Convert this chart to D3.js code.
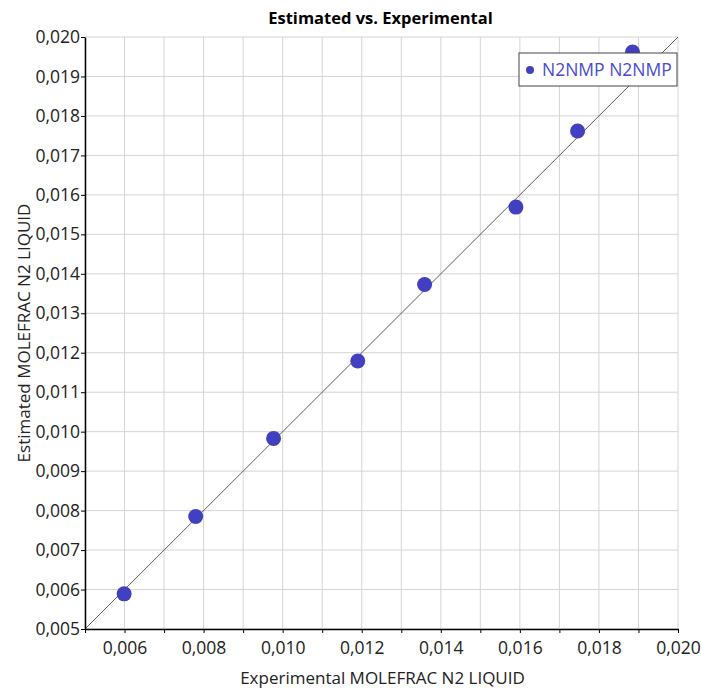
<!DOCTYPE html>
<html>
<head>
<meta charset="utf-8">
<script src="https://cdn.jsdelivr.net/npm/d3@7"></script>
<style>
  body { margin: 0; background: #fff; }
  text { font-family: "Open Sans", "Noto Sans", sans-serif; }
</style>
</head>
<body>
<div id="chart"></div>
<script>
// experimental vs estimated mole fractions
const experimental = [0.00599, 0.00780, 0.00977, 0.01190, 0.01359, 0.01590, 0.01746, 0.01885]
const estimated    = [0.00589, 0.00785, 0.00983, 0.01179, 0.01373, 0.01569, 0.01762, 0.01962]
const seriesName = "N2NMP N2NMP"
const xTicks = [0.006, 0.008, 0.010, 0.012, 0.014, 0.016, 0.018, 0.020]
const yTicks = [0.005, 0.006, 0.007, 0.008, 0.009, 0.010, 0.011, 0.012, 0.013, 0.014, 0.015, 0.016, 0.017, 0.018, 0.019, 0.020]
const gridSteps = d3.range(5, 21).map(d => d / 1000)

const W = 701, H = 690
const margin = {top: 37, right: 23, bottom: 61, left: 85}
const iw = W - margin.left - margin.right
const ih = H - margin.top - margin.bottom
const fmt = d => d3.format(".3f")(d).replace(".", ",")

const svg = d3.select("#chart").append("svg")
    .attr("width", W).attr("height", H)

const g = svg.append("g")
    .attr("transform", "translate(" + margin.left + "," + margin.top + ")")

const x = d3.scaleLinear().domain([0.005, 0.020]).range([0, iw])
const y = d3.scaleLinear().domain([0.005, 0.020]).range([ih, 0])

// grid
g.append("g").selectAll("line").data(gridSteps).join("line")
    .attr("x1", d => x(d)).attr("x2", d => x(d))
    .attr("y1", 0).attr("y2", ih)
    .attr("stroke", "#d4d4d4").attr("stroke-width", 1)
g.append("g").selectAll("line").data(gridSteps).join("line")
    .attr("y1", d => y(d)).attr("y2", d => y(d))
    .attr("x1", 0).attr("x2", iw)
    .attr("stroke", "#d4d4d4").attr("stroke-width", 1)

// y = x reference line
g.append("line")
    .attr("x1", x(0.005)).attr("y1", y(0.005))
    .attr("x2", x(0.020)).attr("y2", y(0.020))
    .attr("stroke", "#333").attr("stroke-width", 0.8)

// points
const pts = experimental.map((d, i) => ({x: d, y: estimated[i]}))
g.append("g").selectAll("circle").data(pts).join("circle")
    .attr("cx", d => x(d.x)).attr("cy", d => y(d.y))
    .attr("r", 7.5)
    .attr("fill", "#4040c0")

// axes
const xAxis = g.append("g")
    .attr("transform", "translate(0," + ih + ")")
    .call(d3.axisBottom(x).tickValues(gridSteps).tickSize(4).tickSizeOuter(0)
        .tickFormat(d => xTicks.some(t => Math.abs(t - d) < 1e-9) ? fmt(d) : ""))
xAxis.select(".domain").attr("stroke", "#000").attr("stroke-width", 1.5)
xAxis.selectAll(".tick line").attr("stroke", "#000")
xAxis.selectAll("text").attr("font-size", 17.5).attr("fill", "#222").attr("dy", "1.0em")

const yAxis = g.append("g")
    .call(d3.axisLeft(y).tickValues(yTicks).tickSize(4).tickSizeOuter(0).tickFormat(fmt))
yAxis.select(".domain").attr("stroke", "#000").attr("stroke-width", 1.5)
yAxis.selectAll(".tick line").attr("stroke", "#000")
yAxis.selectAll("text").attr("font-size", 17.5).attr("fill", "#222").attr("x", -5)

// title and labels
svg.append("text")
    .attr("x", margin.left + iw / 2 - 1).attr("y", 24)
    .attr("text-anchor", "middle")
    .attr("font-size", 16.5).attr("font-weight", "bold")
    .text("Estimated vs. Experimental")

svg.append("text")
    .attr("x", margin.left + iw / 2 + 1).attr("y", 684)
    .attr("text-anchor", "middle")
    .attr("font-size", 17).attr("fill", "#222")
    .text("Experimental MOLEFRAC N2 LIQUID")

svg.append("text")
    .attr("transform", "translate(30," + (margin.top + ih / 2) + ") rotate(-90)")
    .attr("text-anchor", "middle")
    .attr("font-size", 17).attr("fill", "#222")
    .text("Estimated MOLEFRAC N2 LIQUID")

// legend
const lg = svg.append("g").attr("transform", "translate(519,53)")
lg.append("rect")
    .attr("width", 158).attr("height", 33)
    .attr("fill", "#fff").attr("stroke", "#444").attr("stroke-width", 1)
lg.append("circle").attr("cx", 11).attr("cy", 17).attr("r", 4).attr("fill", "#4040c0")
lg.append("text")
    .attr("x", 23).attr("y", 23)
    .attr("font-size", 17.5).attr("fill", "#4a4ad0")
    .text(seriesName)
</script>
</body>
</html>
